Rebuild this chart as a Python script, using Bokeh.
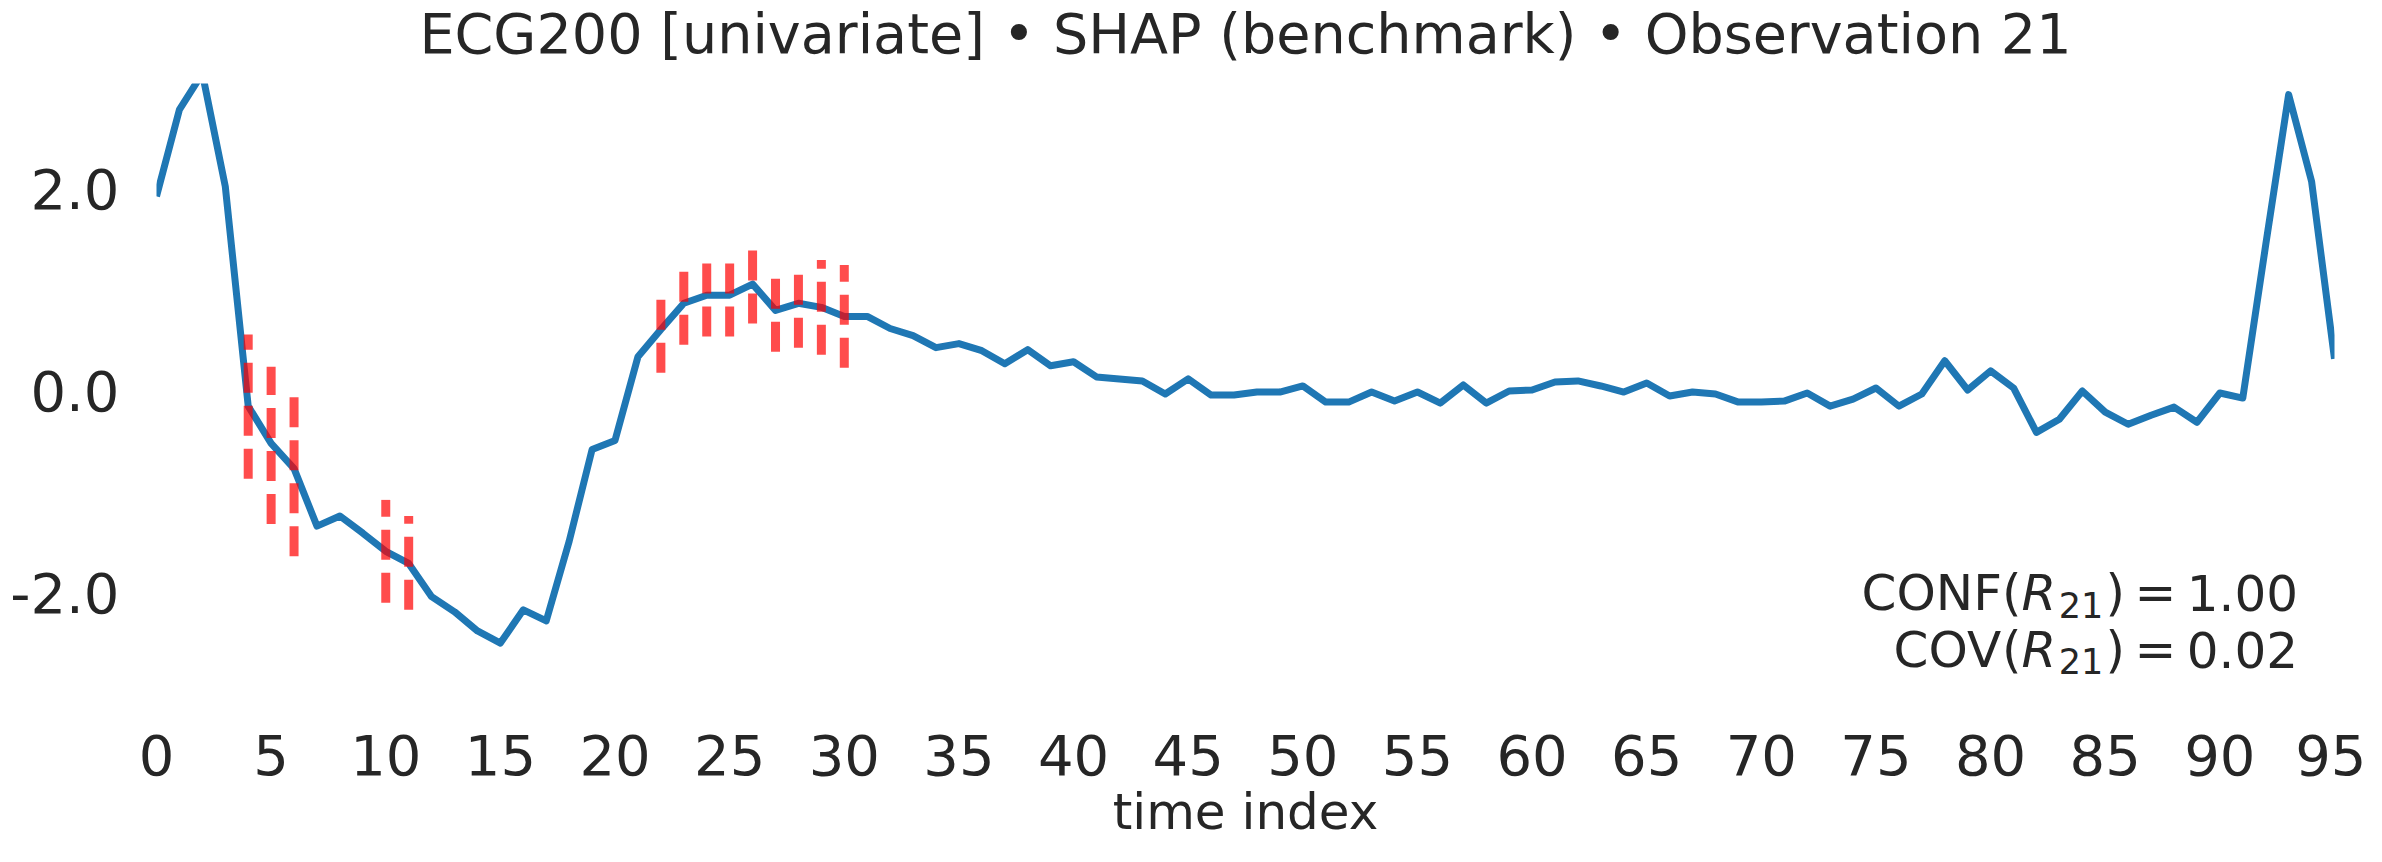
from bokeh.plotting import figure
from bokeh.models import Range1d, FixedTicker, PrintfTickFormatter, Label, Title
from bokeh.embed import file_html
from bokeh.resources import INLINE

# ---------------- data ----------------
time_index = list(range(96))
series = [
    1.93, 2.79, 3.15, 2.03, -0.15, -0.52, -0.77, -1.34, -1.24, -1.41,
    -1.59, -1.71, -2.04, -2.19, -2.38, -2.50, -2.17, -2.28, -1.49, -0.58,
    -0.49, 0.34, 0.61, 0.87, 0.95, 0.95, 1.06, 0.80, 0.87, 0.83,
    0.74, 0.74, 0.62, 0.55, 0.43, 0.47, 0.40, 0.27, 0.41, 0.25,
    0.29, 0.14, 0.12, 0.10, -0.03, 0.12, -0.04, -0.04, -0.01, -0.01,
    0.05, -0.11, -0.11, -0.01, -0.10, -0.01, -0.12, 0.06, -0.12, 0.00,
    0.01, 0.09, 0.10, 0.05, -0.01, 0.08, -0.05, -0.01, -0.03, -0.11,
    -0.11, -0.10, -0.02, -0.15, -0.08, 0.03, -0.15, -0.03, 0.30, 0.01,
    0.20, 0.03, -0.41, -0.28, 0.00, -0.21, -0.33, -0.24, -0.16, -0.31,
    -0.02, -0.07, 1.45, 2.94, 2.08, 0.32,
]
# relevant time steps (SHAP) and the span of their markers
shap_idx = [4, 5, 6, 10, 11, 22, 23, 24, 25, 26, 27, 28, 29, 30]
shap_lo = [-0.87, -1.32, -1.64, -2.10, -2.17, 0.18, 0.46, 0.54, 0.54, 0.67, 0.39, 0.43, 0.36, 0.23]
shap_hi = [0.56, 0.24, -0.04, -1.08, -1.24, 0.92, 1.20, 1.29, 1.29, 1.40, 1.13, 1.18, 1.30, 1.25]

x_ticks = list(range(0, 96, 5))
y_ticks = [-2.0, 0.0, 2.0]
title_text = "ECG200 [univariate] \u2022 SHAP (benchmark) \u2022 Observation 21"
x_label = "time index"
rule_sub = "21"
metrics = [("CONF", "1.00"), ("COV", "0.02")]

# ---------------- style ----------------
FONT = "DejaVu Sans"
INK = "#262626"
BLUE = "#1f77b4"
RED = "#ff0000"
Y0, Y1 = -3.04, 3.05
BIAS = 0.38  # empirical baseline correction (fraction of font size)

p = figure(width=2366, height=846,
           x_range=Range1d(0, 95), y_range=Range1d(Y0, Y1),
           output_backend="svg", toolbar_location=None,
           min_border_left=156, min_border_right=32,
           min_border_top=82, min_border_bottom=149)
p.outline_line_color = None
p.grid.visible = False
p.background_fill_color = "white"
p.border_fill_color = "white"

p.line(time_index, series, line_color=BLUE, line_width=7, line_join="round")
p.segment(x0=shap_idx, y0=shap_lo, x1=shap_idx, y1=shap_hi,
          line_color=RED, line_alpha=0.7, line_width=9, line_dash="30 13")

p.xaxis.ticker = FixedTicker(ticks=x_ticks)
p.yaxis.ticker = FixedTicker(ticks=y_ticks)
p.yaxis.formatter = PrintfTickFormatter(format="%.1f")
for ax in (p.xaxis[0], p.yaxis[0]):
    ax.axis_line_color = None
    ax.major_tick_line_color = None
    ax.minor_tick_line_color = None
    ax.major_tick_out = 0
    ax.major_tick_in = 0
    ax.minor_tick_out = 0
    ax.minor_tick_in = 0
    ax.major_label_text_font = FONT
    ax.major_label_text_font_size = "56px"
    ax.major_label_text_color = INK
p.xaxis.major_label_standoff = 37
p.yaxis.major_label_standoff = 37

p.xaxis.axis_label = x_label
p.xaxis.axis_label_text_font = FONT
p.xaxis.axis_label_text_font_size = "50px"
p.xaxis.axis_label_text_font_style = "normal"
p.xaxis.axis_label_text_color = INK
p.xaxis.axis_label_standoff = 5

p.title.text = title_text
p.title.text_font = FONT
p.title.text_font_size = "55.6px"
p.title.text_font_style = "normal"
p.title.text_color = INK
p.title.align = "center"
p.title.vertical_align = "top"
p.title.standoff = 0
# small empty band between the title and the plot area
p.add_layout(Title(text=" ", text_font_size="1px", standoff=13), "above")


def add_text(txt, x, y, xo, yo, size, style="normal", align="left"):
    p.add_layout(Label(x=x, y=y, x_offset=xo, y_offset=yo + BIAS * size, text=txt,
                       text_font=FONT, text_font_size=f"{size}px",
                       text_font_style=style, text_color=INK,
                       text_align=align, text_baseline="alphabetic"))


# ---------------- CONF / COV annotation (mathtext-like layout) ----------------
ADV = {'C': 1430, 'O': 1612, 'N': 1532, 'F': 1178, 'V': 1401, '(': 799, ')': 799,
       'R': 1423, '=': 1716, '0': 1303, '1': 1303, '2': 1303, '.': 651}


def adv(s, size):
    return sum(ADV[c] for c in s) / 2048.0 * size


F = 50
S = 35
right_pad = 36.5
baselines = [85.3, 28.5]
for (word, val), base in zip(metrics, baselines):
    x_val = -right_pad - adv(val, F)
    x_eq = x_val - 10.3 - adv("=", F)
    x_rp = x_eq - 9.4 - adv(")", F)
    x_sub = x_rp - 2.3 - adv(rule_sub, S)
    x_R = x_sub - 2.5 - adv("R", F)
    x_lp = x_R - adv("(", F)
    x_word = x_lp - adv(word, F)
    pieces = [(word, x_word, F, "normal", base),
              ("(", x_lp, F, "normal", base),
              ("R", x_R, F, "italic", base),
              (rule_sub, x_sub, S, "normal", base - 5.6),
              (")", x_rp, F, "normal", base),
              ("=", x_eq, F, "normal", base),
              (val, x_val, F, "normal", base)]
    for txt, xo, size, style, yo in pieces:
        add_text(txt, 95, Y0, xo, yo, size, style)

open("out.html", "w").write(file_html(p, INLINE))
